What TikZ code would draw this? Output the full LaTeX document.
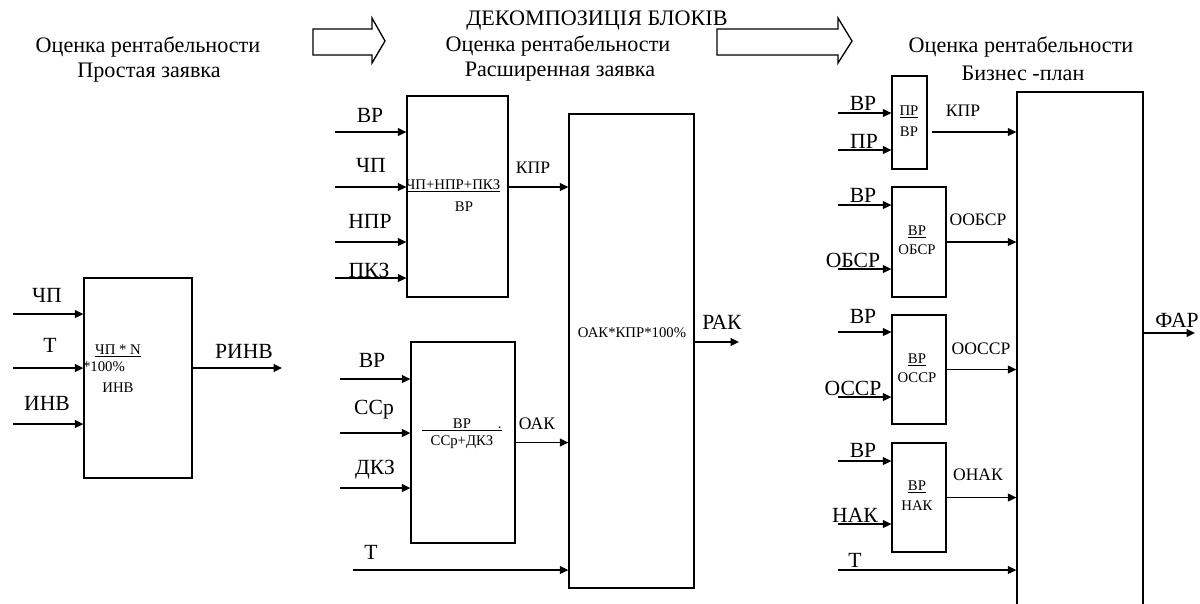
\documentclass[tikz,border=0pt]{standalone}
\usepackage{fontspec}
\setmainfont{Liberation Serif}
\usetikzlibrary{arrows.meta,positioning,calc,fit}
\tikzset{
  block/.style={draw=black, line width=0.75pt, inner sep=0pt},
  flow/.style={-{Triangle[length=4.8pt,width=4.5pt]}, line width=0.75pt},
  sig/.style={font=\fontsize{12.3}{14}\selectfont, inner sep=0pt},
  outlab/.style={font=\fontsize{10}{11}\selectfont, inner sep=0pt},
  formula/.style={font=\fontsize{8.4}{9}\selectfont, inner sep=0pt, align=center},
  figtitle/.style={font=\fontsize{12.6}{14}\selectfont, inner sep=0pt},
  hollow/.style={draw=black, line width=0.75pt, fill=white},
}

\begin{document}
\begin{tikzpicture}[x=0.02cm, y=-0.02cm]
  \useasboundingbox (0,0) rectangle (1200,603);

  % ---- Titles ----
  \node[figtitle] (t1a) at (148,47)  {Оценка рентабельности};
  \node[figtitle] (t1b) at (149,73)  {Простая заявка};
  \node[figtitle] (t2)  at (597,21)  {ДЕКОМПОЗИЦІЯ БЛОКІВ};
  \node[figtitle] (t2a) at (558,46)  {Оценка рентабельности};
  \node[figtitle] (t2b) at (560,72)  {Расширенная заявка};
  \node[figtitle] (t3a) at (1021,47) {Оценка рентабельности};
  \node[figtitle] (t3b) at (1023,73) {Бизнес -план};

  % ---- Hollow arrows ----
  \draw[hollow] (313,29) -- (372,29) -- (372,18) -- (385,41) -- (372,63) -- (372,55) -- (313,55) -- cycle;
  \draw[hollow] (717,29) -- (838,29) -- (838,18) -- (852,41) -- (838,63) -- (838,55) -- (717,55) -- cycle;

  % ---- Simple request (left) ----
  \node[block, fit={(84,278) (192,478)}] (rinvbox) {};
  \node[formula] (rinvnum) at (118,351) {\underline{ЧП * N}};
  \node[formula] (rinvpct) at (104,367) {*100\%};
  \node[formula] (rinvden) at (118,388) {ИНВ};

  \coordinate (chpA) at (13,314);
  \coordinate (tA)   at (13,368);
  \coordinate (invA) at (13,424);
  \coordinate (rinvout) at (282,368);
  \node[sig] (chpAl) at (47,295)  {ЧП};
  \node[sig] (tAl)   at (50,345)  {Т};
  \node[sig] (invAl) at (47,403)  {ИНВ};
  \node[sig] (rinvl) at (244,351) {РИНВ};
  \draw[flow] (chpA) -- (chpA -| rinvbox.west);
  \draw[flow] (tA) -- (tA -| rinvbox.west);
  \draw[flow] (invA) -- (invA -| rinvbox.west);
  \draw[flow] (rinvbox.east |- rinvout) -- (rinvout);

  % ---- Extended request (middle) ----
  \node[block, fit={(407,96) (508,297)}]  (kprbox) {};
  \node[block, fit={(411,342) (515,543)}] (oakbox) {};
  \node[block, fit={(569,114) (694,588)}] (rakbox) {};

  \node[formula] (kprnum) at (453,186) {\underline{ЧП+НПР+ПКЗ}};
  \node[formula] (kprden) at (464,207) {ВР};
  \node[formula] (oaknum) at (462,425) {\underline{\makebox[45pt]{ВР}}\llap{.}};
  \node[formula] (oakden) at (462,442) {ССр+ДКЗ};
  \node[formula] (rakfrm) at (632,333) {ОАК*КПР*100\%};

  \coordinate (vrB)  at (335,132);
  \coordinate (chpB) at (335,187);
  \coordinate (nprB) at (335,242);
  \coordinate (pkzB) at (335,278);
  \coordinate (vrC)  at (340,379);
  \coordinate (ssrC) at (340,433);
  \coordinate (dkzC) at (340,488);
  \coordinate (tB)   at (353,570);
  \coordinate (rakout) at (739,342);

  \node[sig] (vrBl)  at (370,115) {ВР};
  \node[sig] (chpBl) at (371,165) {ЧП};
  \node[sig] (nprBl) at (370,221) {НПР};
  \node[sig] (pkzBl) at (369,270) {ПКЗ};
  \node[sig] (vrCl)  at (372,360) {ВР};
  \node[sig] (ssrCl) at (374,410) {ССр};
  \node[sig] (dkzCl) at (375,470) {ДКЗ};
  \node[sig] (tBl)   at (371,552) {Т};
  \node[outlab] (kprl) at (533,168) {КПР};
  \node[outlab] (oakl) at (537,424) {ОАК};
  \node[sig] (rakl)  at (722,322) {РАК};

  \draw[flow] (vrB) -- (vrB -| kprbox.west);
  \draw[flow] (chpB) -- (chpB -| kprbox.west);
  \draw[flow] (nprB) -- (nprB -| kprbox.west);
  \draw[flow] (pkzB) -- (pkzB -| kprbox.west);
  \draw[flow] (vrC) -- (vrC -| oakbox.west);
  \draw[flow] (ssrC) -- (ssrC -| oakbox.west);
  \draw[flow] (dkzC) -- (dkzC -| oakbox.west);
  \draw[flow] (tB) -- (tB -| rakbox.west);
  \draw[flow] (kprbox.east |- chpB) -- (rakbox.west |- chpB);
  \draw[flow] (oakbox.east) -- (oakbox.east -| rakbox.west);
  \draw[flow] (rakbox.east |- rakout) -- (rakout);

  % ---- Business plan (right) ----
  \node[block, fit={(892,76) (927,169)}]   (prbox)    {};
  \node[block, fit={(892,187) (946,297)}]  (oobsrbox) {};
  \node[block, fit={(892,315) (946,424)}]  (oossrbox) {};
  \node[block, fit={(892,443) (946,552)}]  (onakbox)  {};
  \node[block, fit={(1017,92) (1143,640)}] (farbox)   {};

  \node[formula] (prnum)    at (909,112) {\underline{ПР}};
  \node[formula] (prden)    at (909,132) {ВР};
  \node[formula] (oobsrnum) at (917,232) {\underline{ВР}};
  \node[formula] (oobsrden) at (917,250) {ОБСР};
  \node[formula] (oossrnum) at (917,360) {\underline{ВР}};
  \node[formula] (oossrden) at (917,378) {ОССР};
  \node[formula] (onaknum)  at (917,487) {\underline{ВР}};
  \node[formula] (onakden)  at (917,506) {НАК};

  \coordinate (vrD)   at (838,113);
  \coordinate (prD)   at (838,150);
  \coordinate (vrF)   at (838,205);
  \coordinate (obsrF) at (838,269);
  \coordinate (vrG)   at (838,332);
  \coordinate (ossrG) at (838,397);
  \coordinate (vrH)   at (838,461);
  \coordinate (nakH)  at (838,524);
  \coordinate (tC)    at (838,570);
  \coordinate (kprR)  at (932,132);
  \coordinate (farout) at (1195,333);

  \node[sig] (vrDl)   at (863,103) {ВР};
  \node[sig] (prDl)   at (864,141) {ПР};
  \node[sig] (vrFl)   at (863,195) {ВР};
  \node[sig] (obsrFl) at (853,260) {ОБСР};
  \node[sig] (vrGl)   at (863,316) {ВР};
  \node[sig] (ossrGl) at (853,388) {ОССР};
  \node[sig] (vrHl)   at (863,450) {ВР};
  \node[sig] (nakHl)  at (855,515) {НАК};
  \node[sig] (tCl)    at (855,560) {Т};
  \node[outlab] (kprRl)  at (963,111) {КПР};
  \node[outlab] (oobsrl) at (978,220) {ООБСР};
  \node[outlab] (oossrl) at (981,349) {ООССР};
  \node[outlab] (onakl)  at (978,475) {ОНАК};
  \node[sig] (farl) at (1177,320) {ФАР};

  \draw[flow] (vrD) -- (vrD -| prbox.west);
  \draw[flow] (prD) -- (prD -| prbox.west);
  \draw[flow] (vrF) -- (vrF -| oobsrbox.west);
  \draw[flow] (obsrF) -- (obsrF -| oobsrbox.west);
  \draw[flow] (vrG) -- (vrG -| oossrbox.west);
  \draw[flow] (ossrG) -- (ossrG -| oossrbox.west);
  \draw[flow] (vrH) -- (vrH -| onakbox.west);
  \draw[flow] (nakH) -- (nakH -| onakbox.west);
  \draw[flow] (tC) -- (tC -| farbox.west);
  \draw[flow] (kprR) -- (kprR -| farbox.west);
  \draw[flow] (oobsrbox.east) -- (oobsrbox.east -| farbox.west);
  \draw[flow] (oossrbox.east) -- (oossrbox.east -| farbox.west);
  \draw[flow] (onakbox.east) -- (onakbox.east -| farbox.west);
  \draw[flow] (farbox.east |- farout) -- (farout);

\end{tikzpicture}
\end{document}
